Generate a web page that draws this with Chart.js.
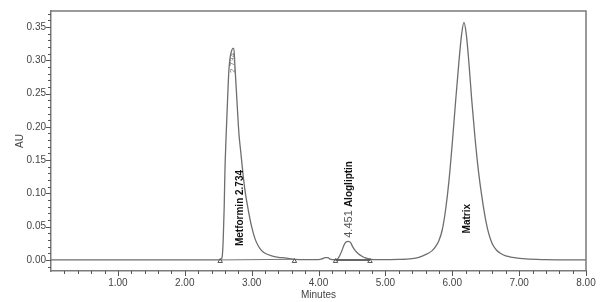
<!DOCTYPE html>
<html>
<head>
<meta charset="utf-8">
<title>Chromatogram</title>
<script src="https://cdn.jsdelivr.net/npm/chart.js@4.4.1/dist/chart.umd.min.js"></script>
<style>
  html, body { margin: 0; padding: 0; background: #fff; }
  #chromChart { display: block; }
</style>
</head>
<body>
<canvas id="chromChart" width="602" height="302"></canvas>
<script>
// retention time (min) and absorbance (AU)
var rtMin = [0.00, 2.50, 2.54, 2.56, 2.575, 2.59, 2.60, 2.62, 2.64, 2.66, 2.68, 2.70, 2.72, 2.734,
  2.75, 2.78, 2.81, 2.84, 2.87, 2.90, 2.95, 3.00, 3.05, 3.10, 3.15, 3.20, 3.30, 3.40, 3.50, 3.65,
  3.80, 4.00, 4.05, 4.10, 4.14, 4.18, 4.25, 4.29, 4.32, 4.35, 4.38, 4.41, 4.451, 4.48, 4.51, 4.55,
  4.60, 4.65, 4.70, 4.78, 4.90, 5.20, 5.40, 5.50, 5.60, 5.70, 5.75, 5.80, 5.85, 5.90, 5.95, 6.00,
  6.05, 6.10, 6.14, 6.175, 6.21, 6.25, 6.29, 6.34, 6.39, 6.44, 6.50, 6.55, 6.60, 6.66, 6.72, 6.80,
  6.90, 7.10, 7.40, 8.00];
var absAU = [0.000, 0.000, 0.001, 0.005, 0.030, 0.080, 0.130, 0.190, 0.240, 0.285, 0.305, 0.314, 0.318, 0.318,
  0.292, 0.240, 0.190, 0.160, 0.130, 0.105, 0.075, 0.050, 0.032, 0.021, 0.014, 0.010, 0.006, 0.004, 0.003, 0.001,
  0.0005, 0.0005, 0.0015, 0.0035, 0.0035, 0.001, 0.0005, 0.002, 0.007, 0.014, 0.022, 0.027, 0.028, 0.026, 0.020, 0.014,
  0.009, 0.0055, 0.003, 0.001, 0.0005, 0.0008, 0.002, 0.004, 0.008, 0.014, 0.020, 0.029, 0.045, 0.075, 0.118, 0.175,
  0.238, 0.298, 0.339, 0.357, 0.339, 0.295, 0.242, 0.184, 0.135, 0.097, 0.060, 0.038, 0.024, 0.015, 0.010, 0.006,
  0.004, 0.0015, 0.0005, 0.000];

// peak start / end marks and integration baselines
var markRt = [2.53, 3.64, 4.255, 4.77];
var metBaseRt = [2.53, 3.64];
var metBaseAU = [0.000, 0.001];
var aloBaseRt = [4.255, 4.77];
var aloBaseAU = [0.000, 0.000];

// peak names and retention times
var peakNames = ["Metformin", "Alogliptin", "Matrix"];
var peakRt = [2.734, 4.451, 6.175];

var xTickLabels = ["1.00", "2.00", "3.00", "4.00", "5.00", "6.00", "7.00", "8.00"];
var yTickLabels = ["0.00", "0.05", "0.10", "0.15", "0.20", "0.25", "0.30", "0.35"];

function toPoints(xs, ys) {
    var pts = [];
    for (var i = 0; i < xs.length; i++) {
        pts.push({ x: xs[i], y: ys[i] });
    }
    return pts;
}

var FONT = "'Liberation Sans', Arial, sans-serif";
var AXIS_GREY = "#7a7a7a";

// top/right frame + major/minor ticks, placed through the scales
var frameTicks = {
    id: "frameTicks",
    afterDraw: function (chart) {
        var ctx = chart.ctx, a = chart.chartArea;
        var x = chart.scales.x, y = chart.scales.y;
        ctx.save();
        ctx.strokeStyle = AXIS_GREY;
        ctx.lineWidth = 1.5;
        ctx.beginPath();
        ctx.moveTo(a.left, a.top);
        ctx.lineTo(a.right, a.top);
        ctx.lineTo(a.right, a.bottom);
        ctx.stroke();

        ctx.strokeStyle = "#555";
        ctx.lineWidth = 1;
        ctx.beginPath();
        for (var i = 1; i <= 40; i++) {
            var px = Math.round(x.getPixelForValue(i * 0.2)) + 0.5;
            var len = (i % 5 == 0) ? 5 : 3;
            ctx.moveTo(px, a.bottom);
            ctx.lineTo(px, a.bottom + len);
        }
        for (var j = -1; j <= 37; j++) {
            var py = Math.round(y.getPixelForValue(j * 0.01)) + 0.5;
            var l2 = (j % 5 == 0) ? 5 : 3;
            ctx.moveTo(a.left, py);
            ctx.lineTo(a.left - l2, py);
        }
        ctx.stroke();
        ctx.restore();
    }
};

function vText(ctx, txt, px, py, font, color) {
    ctx.save();
    ctx.translate(px, py);
    ctx.rotate(-Math.PI / 2);
    ctx.font = font;
    ctx.fillStyle = color;
    ctx.textAlign = "center";
    ctx.textBaseline = "middle";
    ctx.fillText(txt, 0, 0);
    ctx.restore();
}

// vertical peak annotations
var peakLabels = {
    id: "peakLabels",
    afterDatasetsDraw: function (chart) {
        var ctx = chart.ctx;
        var x = chart.scales.x, y = chart.scales.y;
        var bold = "bold 10px " + FONT;
        // apex retention time on metformin (overprinted in the original)
        vText(ctx, peakRt[0].toFixed(3), x.getPixelForValue(2.72), y.getPixelForValue(0.296), "8px " + FONT, "#777");
        vText(ctx, peakNames[0] + " " + peakRt[0].toFixed(3), x.getPixelForValue(2.826), y.getPixelForValue(0.078), bold, "#111");
        vText(ctx, peakRt[1].toFixed(3), x.getPixelForValue(4.456), y.getPixelForValue(0.054), "11px " + FONT, "#555");
        vText(ctx, peakNames[1], x.getPixelForValue(4.456), y.getPixelForValue(0.114), bold, "#111");
        vText(ctx, peakNames[2], x.getPixelForValue(6.22), y.getPixelForValue(0.062), bold, "#111");
    }
};

var ctx_chart = document.getElementById("chromChart").getContext("2d");
var chart = new Chart(ctx_chart, {
    type: "line",
    data: {
        datasets: [
            {
                label: "markers",
                type: "scatter",
                data: markRt.map(function (t) { return { x: t, y: -0.0018 }; }),
                showLine: false,
                pointStyle: "triangle",
                pointRadius: 2.6,
                pointBorderWidth: 1,
                pointBorderColor: "#555",
                pointBackgroundColor: "rgba(255,255,255,0)"
            },
            {
                label: "alo base",
                data: toPoints(aloBaseRt, aloBaseAU),
                borderColor: "#333",
                borderWidth: 1.6,
                pointRadius: 0
            },
            {
                label: "met base",
                data: toPoints(metBaseRt, metBaseAU),
                borderColor: "#777",
                borderWidth: 1,
                pointRadius: 0
            },
            {
                label: "AU",
                data: toPoints(rtMin, absAU),
                borderColor: "#6e6e6e",
                borderWidth: 1.3,
                pointRadius: 0,
                fill: false,
                cubicInterpolationMode: "monotone"
            }
        ]
    },
    options: {
        responsive: false,
        animation: false,
        layout: { padding: { top: 3, right: 16, left: 0, bottom: 0 } },
        plugins: {
            legend: { display: false },
            tooltip: { enabled: false }
        },
        scales: {
            x: {
                type: "linear",
                min: 0,
                max: 8,
                afterBuildTicks: function (s) {
                    s.ticks = xTickLabels.map(function (t) { return { value: parseFloat(t) }; });
                },
                afterFit: function (s) { s.height = 31; },
                grid: { display: false, drawTicks: false },
                border: { display: true, color: AXIS_GREY, width: 1.5 },
                ticks: {
                    autoSkip: false,
                    maxRotation: 0,
                    padding: 6,
                    color: "#444",
                    font: { family: FONT, size: 10 },
                    callback: function (v) { return xTickLabels[xTickLabels.indexOf(v.toFixed(2))]; }
                },
                title: {
                    display: true,
                    text: "Minutes",
                    color: "#444",
                    font: { family: FONT, size: 10 },
                    padding: { top: 0, bottom: 1 }
                }
            },
            y: {
                min: -0.0166,
                max: 0.374,
                afterBuildTicks: function (s) {
                    s.ticks = yTickLabels.map(function (t) { return { value: parseFloat(t) }; });
                },
                afterFit: function (s) { s.width = 51; },
                grid: { display: false, drawTicks: false },
                border: { display: true, color: AXIS_GREY, width: 1.5 },
                ticks: {
                    autoSkip: false,
                    padding: 5,
                    color: "#444",
                    font: { family: FONT, size: 10 },
                    callback: function (v) { return v.toFixed(2); }
                },
                title: {
                    display: true,
                    text: "AU",
                    color: "#444",
                    font: { family: FONT, size: 10 },
                    padding: { top: 14, bottom: 0 }
                }
            }
        }
    },
    plugins: [frameTicks, peakLabels]
});
</script>
</body>
</html>
